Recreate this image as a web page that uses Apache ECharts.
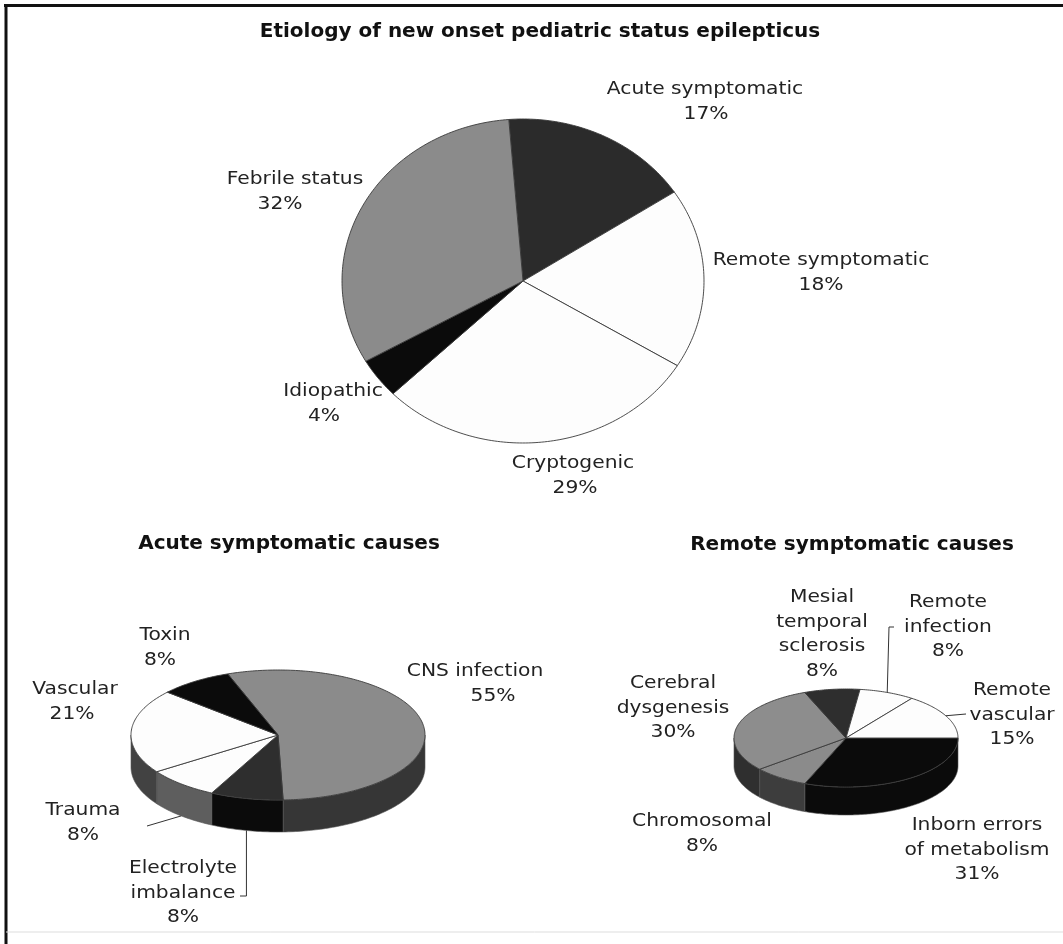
<!DOCTYPE html>
<html>
<head>
<meta charset="utf-8">
<title>Etiology of new onset pediatric status epilepticus</title>
<script src="https://cdn.jsdelivr.net/npm/echarts@6/dist/echarts.min.js"></script>
<style>
  html, body { margin: 0; padding: 0; background: #fff; }
  #chart { width: 1063px; height: 944px; }
</style>
</head>
<body>
<div id="chart"></div>
<script>
// ---- data ----
const etiologyNames  = ['Acute symptomatic', 'Remote symptomatic', 'Cryptogenic', 'Idiopathic', 'Febrile status'];
const etiologyValues = [17, 18, 29, 4, 32];

const acuteNames  = ['CNS infection', 'Electrolyte\nimbalance', 'Trauma', 'Vascular', 'Toxin'];
const acuteValues = [55, 8, 8, 21, 8];

const remoteNames  = ['Inborn errors\nof metabolism', 'Chromosomal', 'Cerebral\ndysgenesis',
                      'Mesial\ntemporal\nsclerosis', 'Remote\ninfection', 'Remote\nvascular'];
const remoteValues = [31, 8, 30, 8, 8, 15];

const titles = ['Etiology of new onset pediatric status epilepticus',
                'Acute symptomatic causes', 'Remote symptomatic causes'];

// ---- layout & style ----
// start: degrees clockwise from 12 o'clock; depth > 0 draws a tilted disc with a rim
const mainGeo   = { cx: 523, cy: 281, rx: 181, ry: 162, depth: 0,  start: -4.5 };
const acuteGeo  = { cx: 278, cy: 735, rx: 147, ry: 65,  depth: 32, start: -20 };
const remoteGeo = { cx: 846, cy: 738, rx: 112, ry: 49,  depth: 28, start: 90 };

const mainStyle = {
  top:  ['#2b2b2b', '#fdfdfd', '#fdfdfd', '#0b0b0b', '#8b8b8b']
};
const acuteStyle = {
  top:  ['#8b8b8b', '#2e2e2e', '#fdfdfd', '#fdfdfd', '#0b0b0b'],
  side: ['#363636', '#0b0b0b', '#5e5e5e', '#424242', '#0b0b0b']
};
const remoteStyle = {
  top:  ['#0b0b0b', '#8b8b8b', '#8d8d8d', '#2e2e2e', '#fdfdfd', '#fdfdfd'],
  side: ['#0b0b0b', '#3d3d3d', '#2f2f2f', '#222222', '#666666', '#666666']
};

// label anchors (first line centre); px = x of the percentage line when it is offset
const mainLabels = [
  { x: 705, y: 90,  px: 706 },
  { x: 821, y: 261 },
  { x: 573, y: 464, px: 575 },
  { x: 333, y: 392, px: 324 },
  { x: 295, y: 180, px: 280 }
];
const acuteLabels = [
  { x: 475, y: 672, px: 493 },
  { x: 183, y: 869, leader: { edge: 'bottom', via: [[null, 896], [240, 896]] } },
  { x: 83,  y: 811, leader: { edge: 'bottom', via: [[147, 826]] } },
  { x: 75,  y: 690, px: 72 },
  { x: 165, y: 636, px: 160 }
];
const remoteLabels = [
  { x: 977, y: 826 },
  { x: 702, y: 822 },
  { x: 673, y: 684 },
  { x: 822, y: 598 },
  { x: 948, y: 603, leader: { edge: 'top', via: [[889, 627], [894, 627]] } },
  { x: 1012, y: 691, leader: { edge: 'top', via: [[966, 714]] } }
];

const LABEL_FONT = '17px "DejaVu Sans"';
const LABEL_STRETCH = 1.19;
const LINE_GAP = 24.5;

// ---- geometry helpers ----
function cumulativeAngles(values, start) {
  const total = values.reduce((s, v) => s + v, 0);
  let acc = start;
  return values.map(v => { const a = acc; acc += v / total * 360; return [a, acc]; });
}
function ellipsePoint(g, deg, dy) {
  const r = deg * Math.PI / 180;
  return [g.cx + g.rx * Math.sin(r), g.cy - g.ry * Math.cos(r) + (dy || 0)];
}
function arcPoints(g, a, b, dy) {
  const n = Math.max(2, Math.ceil(Math.abs(b - a)));
  const pts = [];
  for (let k = 0; k <= n; k++) pts.push(ellipsePoint(g, a + (b - a) * k / n, dy));
  return pts;
}
function sectorPoints(g, a, b) {
  return [[g.cx, g.cy]].concat(arcPoints(g, a, b, 0));
}
// parts of [a,b] lying on the near (front) half of the disc
function frontParts(a, b) {
  const out = [];
  for (let k = -1; k <= 1; k++) {
    const lo = Math.max(a, 90 + 360 * k), hi = Math.min(b, 270 + 360 * k);
    if (hi > lo) out.push([lo, hi]);
  }
  return out;
}
function rimPoints(g, s, e) {
  return arcPoints(g, s, e, 0).concat(arcPoints(g, e, s, g.depth));
}

function pieSeries(name, names, values, geo, style, labels) {
  const angles = cumulativeAngles(values, geo.start);
  return {
    type: 'custom',
    name: name,
    coordinateSystem: 'none',
    animation: false,
    silent: true,
    data: values.map((v, i) => ({ value: v, name: names[i] })),
    renderItem: function (params, api) {
      const i = params.dataIndex;
      const [a, b] = angles[i];
      const children = [];
      children.push({
        type: 'polygon', z2: 10,
        shape: { points: sectorPoints(geo, a, b) },
        style: { fill: style.top[i], stroke: '#3a3a3a', lineWidth: 0.9, lineJoin: 'round' }
      });
      if (geo.depth) {
        frontParts(a, b).forEach(([s, e]) => {
          children.push({
            type: 'polygon', z2: 2,
            shape: { points: rimPoints(geo, s, e) },
            style: { fill: style.side[i], stroke: '#555', lineWidth: 0.6 }
          });
        });
      }
      // label text: name lines followed by the percentage
      const lab = labels[i];
      const lines = names[i].split('\n');
      lines.push(api.value(0) + '%');
      lines.forEach((t, k) => {
        const isPct = k === lines.length - 1;
        children.push({
          type: 'text', z2: 20,
          x: (isPct && lab.px != null) ? lab.px : lab.x,
          y: lab.y + k * LINE_GAP,
          scaleX: LABEL_STRETCH,
          style: { text: t, x: 0, y: 0, align: 'center', verticalAlign: 'middle',
                   font: LABEL_FONT, fill: '#222' }
        });
      });
      // leader line from the slice rim to its label
      if (lab.leader) {
        const mid = (a + b) / 2;
        const anchor = ellipsePoint(geo, mid, lab.leader.edge === 'bottom' ? geo.depth : 0);
        const pts = [anchor].concat(lab.leader.via.map(p => [p[0] == null ? anchor[0] : p[0], p[1]]));
        children.push({
          type: 'polyline', z2: 15,
          shape: { points: pts },
          style: { stroke: '#333', lineWidth: 1, fill: null }
        });
      }
      return { type: 'group', children: children };
    }
  };
}

const chart = echarts.init(document.getElementById('chart'), null, { renderer: 'canvas' });
const titleStyle = { fontFamily: 'DejaVu Sans', fontWeight: 'bold', fontSize: 20, color: '#111' };
chart.setOption({
  backgroundColor: '#ffffff',
  animation: false,
  title: [
    { text: titles[0], left: 540, top: 22, textAlign: 'center', textStyle: titleStyle, padding: 0 },
    { text: titles[1], left: 289, top: 534, textAlign: 'center', textStyle: titleStyle, padding: 0 },
    { text: titles[2], left: 852, top: 535, textAlign: 'center', textStyle: titleStyle, padding: 0 }
  ],
  graphic: [
    { type: 'line', silent: true, shape: { x1: 6, y1: 4, x2: 6, y2: 944 }, style: { stroke: '#111', lineWidth: 3 } },
    { type: 'line', silent: true, shape: { x1: 4, y1: 5.5, x2: 1063, y2: 5.5 }, style: { stroke: '#111', lineWidth: 3 } },
    { type: 'line', silent: true, shape: { x1: 6, y1: 932, x2: 1063, y2: 932 }, style: { stroke: '#dddddd', lineWidth: 1 } }
  ],
  series: [
    pieSeries('Etiology', etiologyNames, etiologyValues, mainGeo, mainStyle, mainLabels),
    pieSeries('Acute symptomatic causes', acuteNames, acuteValues, acuteGeo, acuteStyle, acuteLabels),
    pieSeries('Remote symptomatic causes', remoteNames, remoteValues, remoteGeo, remoteStyle, remoteLabels)
  ]
});
</script>
</body>
</html>
